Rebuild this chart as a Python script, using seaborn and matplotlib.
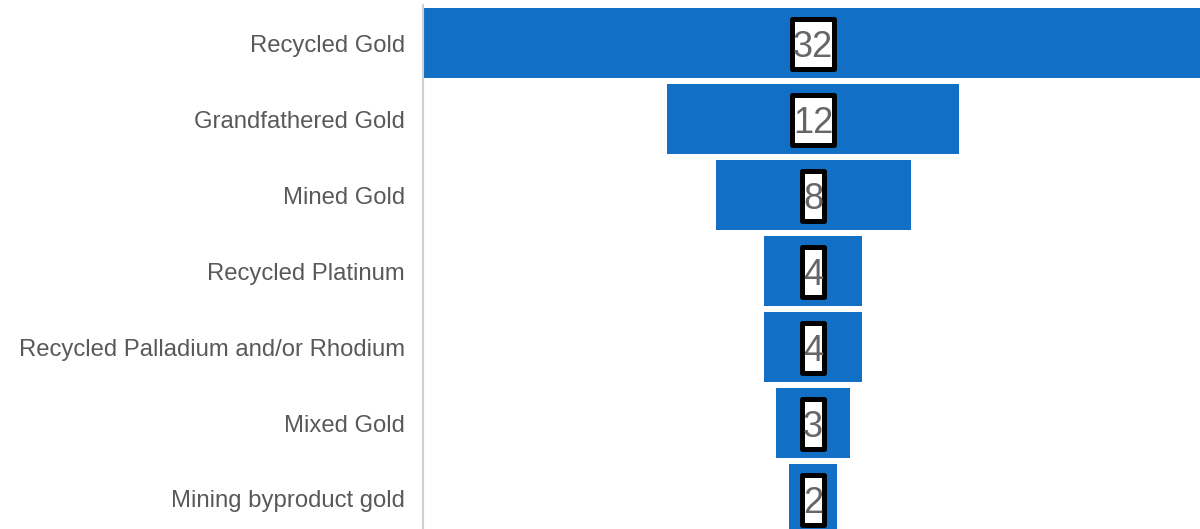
import matplotlib
matplotlib.use("Agg")
import matplotlib.pyplot as plt
import matplotlib.transforms as mtransforms
import seaborn as sns
import pandas as pd
from matplotlib.path import Path

categories = ["Recycled Gold", "Grandfathered Gold", "Mined Gold", "Recycled Platinum",
              "Recycled Palladium and/or Rhodium", "Mixed Gold", "Mining byproduct gold"]
values = [32, 12, 8, 4, 4, 3, 2]

sns.set_theme(style="white")
plt.rcParams['font.family'] = ['Liberation Sans', 'DejaVu Sans']

W, H = 1200, 529
fig = plt.figure(figsize=(W / 100, H / 100), dpi=100)
left_px, right_px = 423, 1203
top_px = 5
band = 76
bottom_px = top_px + band * len(categories)
ax = fig.add_axes([left_px / W, (H - bottom_px) / H,
                   (right_px - left_px) / W, (bottom_px - top_px) / H])

df = pd.DataFrame({"category": categories, "value": values})
sns.barplot(data=df, x="value", y="category", orient="h", color="#1170C6",
            saturation=1, width=0.92, linewidth=0, ax=ax, errorbar=None)


def label_box(x0, y0, width, height, mutation_size):
    px = 0.03 * mutation_size
    pb = 0.11 * mutation_size
    pt = 0.30 * mutation_size
    xa, ya = x0 - px, y0 - pb
    xb, yb = x0 + width + px, y0 + height + pt
    return Path([(xa, ya), (xb, ya), (xb, yb), (xa, yb), (xa, ya)], closed=True)


# text baseline placed below bar centre so the digits sit centred on the bar
label_tf = mtransforms.offset_copy(ax.transData, fig=fig, x=0, y=-14, units="dots")

# centre each bar to make a funnel
for p, v in zip(ax.patches, values):
    p.set_x(-p.get_width() / 2)
    cy = p.get_y() + p.get_height() / 2
    ax.text(0, cy, str(v), ha="center", va="baseline", fontsize=26, color="#666666",
            transform=label_tf,
            bbox=dict(boxstyle=label_box, fc="white", ec="black", lw=3.6,
                      joinstyle="round"))

half = max(values) / 2
ax.set_xlim(-half, half)
ax.set_xlabel("")
ax.set_ylabel("")
ax.set_xticks([])
ax.tick_params(axis="y", length=0, pad=13, labelsize=17.2, labelcolor="#595959")
for s in ["top", "right", "bottom"]:
    ax.spines[s].set_visible(False)
ax.spines["left"].set_color("#d0d0d0")
ax.spines["left"].set_linewidth(1.5)

fig.savefig("out.png", dpi=100)
